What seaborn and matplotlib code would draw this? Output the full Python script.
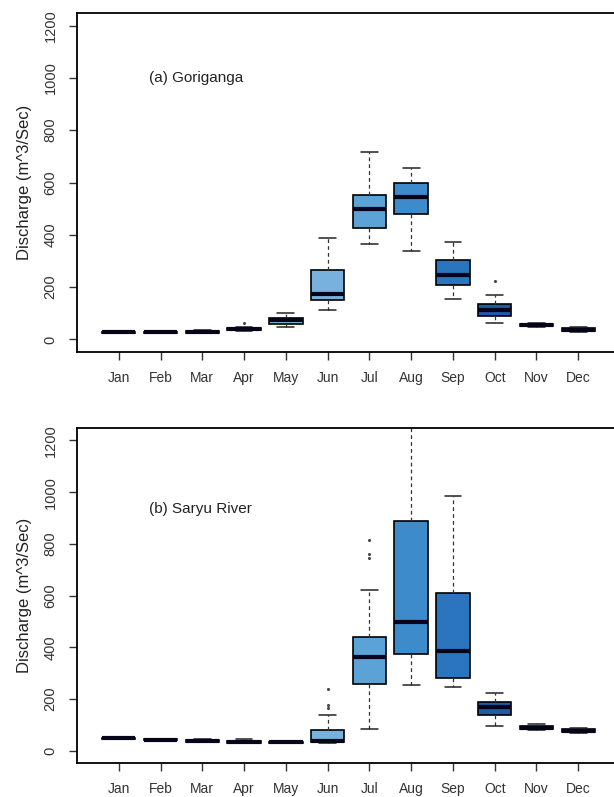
import numpy as np
import pandas as pd
import matplotlib
matplotlib.use("Agg")
import matplotlib.pyplot as plt
import seaborn as sns

months = ["Jan", "Feb", "Mar", "Apr", "May", "Jun", "Jul", "Aug", "Sep", "Oct", "Nov", "Dec"]
month_colors = ["#d0e3f2", "#c4dbee", "#b5d3eb", "#a3c9e6", "#8fbde0", "#78b2dc",
                "#5ba2d6", "#3d8bcb", "#2a75bd", "#1b5ca6", "#164d92", "#123f80"]

# (a) Goriganga five-number summaries
gori_low = [24, 25, 24, 33, 48, 112, 364, 340, 155, 63, 47, 29]
gori_q1 = [26, 26, 26, 36, 60, 150, 426, 480, 208, 88, 51, 32]
gori_med = [28, 27, 28, 40, 73, 174, 498, 546, 246, 111, 55, 38]
gori_q3 = [30, 28, 31, 44, 82, 264, 553, 600, 303, 137, 60, 45]
gori_high = [33, 29, 38, 48, 102, 387, 718, 656, 374, 170, 63, 48]
gori_out_month = ["Apr", "Oct"]
gori_out_value = [62, 223]

# (b) Saryu River five-number summaries
saryu_low = [45, 40, 34, 29, 30, 30, 83, 255, 245, 95, 78, 68]
saryu_q1 = [46, 41, 35, 30, 31, 35, 258, 375, 280, 138, 82, 72]
saryu_med = [47, 42, 38, 33, 32, 38, 362, 497, 386, 170, 88, 77]
saryu_q3 = [48, 44, 42, 36, 33, 78, 440, 890, 610, 188, 95, 82]
saryu_high = [49, 45, 44, 45, 34, 137, 620, 1290, 985, 222, 102, 86]
saryu_out_month = ["Jun", "Jun", "Jun", "Jul", "Jul", "Jul"]
saryu_out_value = [165, 175, 240, 745, 760, 815]

yticks = [0, 200, 400, 600, 800, 1000, 1200]


def build(low, q1, med, q3, high):
    rows = []
    for i, m in enumerate(months):
        for v in (low[i], q1[i], med[i], q3[i], high[i]):
            rows.append((m, v))
    return pd.DataFrame(rows, columns=["month", "value"])


sns.set_style("ticks")
plt.rcParams["font.family"] = ["Liberation Sans", "DejaVu Sans"]

W, H = 614, 797
fig = plt.figure(figsize=(W / 100, H / 100), dpi=100)

panels = [
    (build(gori_low, gori_q1, gori_med, gori_q3, gori_high),
     pd.DataFrame({"month": gori_out_month, "value": gori_out_value}),
     "(a) Goriganga", 1000, 13, 352),
    (build(saryu_low, saryu_q1, saryu_med, saryu_q3, saryu_high),
     pd.DataFrame({"month": saryu_out_month, "value": saryu_out_value}),
     "(b) Saryu River", 935, 428, 763),
]

for df, odf, label, label_y, top_px, bot_px in panels:
    left = 77 / W
    right = 620 / W
    ax = fig.add_axes([left, 1 - bot_px / H, right - left, (bot_px - top_px) / H])
    sns.boxplot(data=df, x="month", y="value", hue="month", order=months,
                hue_order=months, palette=month_colors, saturation=1, legend=False,
                whis=(0, 100), width=0.8, showfliers=False,
                linecolor="black", linewidth=1.2,
                medianprops=dict(linewidth=3, color="#05051a"),
                whiskerprops=dict(linestyle=(0, (3, 2.5)), linewidth=0.9, color="#333333"),
                capprops=dict(linewidth=1.1, color="#222222"),
                ax=ax)
    sns.stripplot(data=odf, x="month", y="value", order=months, jitter=False,
                  color="#444444", size=2.2, ax=ax)
    ax.set_xlim(-1, 12)
    ax.set_ylim(-48, 1248)
    ax.set_yticks(yticks)
    ax.set_yticklabels([str(t) for t in yticks], rotation=90, va="center",
                       fontsize=10.5, color="#333333")
    ax.set_xticks(range(12))
    ax.set_xticklabels(months, fontsize=10, color="#333333")
    ax.tick_params(axis="both", direction="out", length=6, width=1, color="#333333", pad=8)
    ax.set_xlabel("")
    ax.set_ylabel("Discharge (m^3/Sec)", fontsize=12, color="#222222", labelpad=8)
    for s in ax.spines.values():
        s.set_visible(True)
        s.set_linewidth(1.3)
        s.set_color("black")
    ax.text(0.72, label_y, label, fontsize=11, color="#222222", ha="left", va="center")

fig.savefig("out.png", dpi=100)
